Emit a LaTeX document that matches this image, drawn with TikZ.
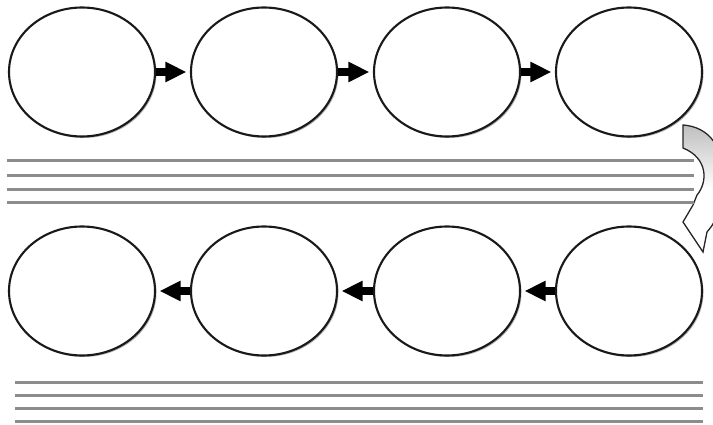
\documentclass[tikz,border=0pt]{standalone}
\usetikzlibrary{shapes.geometric,arrows.meta,shadows}
\tikzset{
  bubble/.style={ellipse, draw=black!90, line width=2.1pt, fill=white,
    minimum width=146pt, minimum height=129pt, inner sep=0pt,
    drop shadow={shadow xshift=1.5pt, shadow yshift=-1.5pt, opacity=0.3, fill=black}},
  flowarrow/.style={line width=8pt, -{Triangle[length=21pt,width=19pt]}, shorten >=3.5pt},
  textline/.style={line width=3pt, draw=black!45},
  turnarrow/.style={draw=black!85, line width=1.3pt, top color=black!25, bottom color=white, middle color=white}
}
\begin{document}
\begin{tikzpicture}[x=1pt,y=-1pt]
\useasboundingbox (0,0) rectangle (713,425);
% curved U-turn arrow (partly outside the picture)
\begin{scope}
\clip (0,0) rectangle (713,425);
\path[turnarrow] (683,125) .. controls (710,127) and (724,148) .. (724,180)
  .. controls (724,205) and (716,222) .. (707,232) -- (703,252) -- (683,222)
  -- (693,205) -- (697,195) .. controls (708,182) and (708,158) .. (683,148) -- cycle;
\end{scope}
% top row
\node[bubble] (e1) at (82,72) {};
\node[bubble] (e2) at (264,72) {};
\node[bubble] (e3) at (447,72) {};
\node[bubble] (e4) at (629,72) {};
% bottom row
\node[bubble] (e5) at (82,291) {};
\node[bubble] (e6) at (264,291) {};
\node[bubble] (e7) at (447,291) {};
\node[bubble] (e8) at (629,291) {};
% connectors
\draw[flowarrow] (e1.east) -- (e2.west);
\draw[flowarrow] (e2.east) -- (e3.west);
\draw[flowarrow] (e3.east) -- (e4.west);
\draw[flowarrow] (e8.west) -- (e7.east);
\draw[flowarrow] (e7.west) -- (e6.east);
\draw[flowarrow] (e6.west) -- (e5.east);
% text placeholder lines
\foreach \yy in {161,176,190,203} \draw[textline] (7,\yy) -- (694,\yy);
\foreach \yy in {382,395,408,421} \draw[textline] (15,\yy) -- (703,\yy);
\end{tikzpicture}
\end{document}
